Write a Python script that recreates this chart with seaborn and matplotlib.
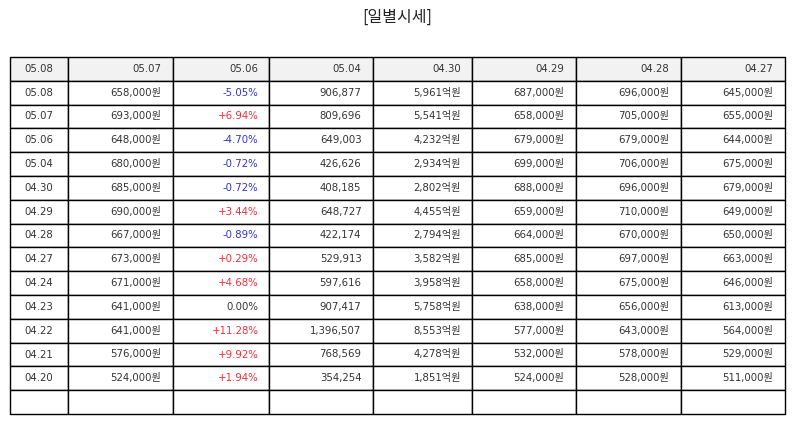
import matplotlib
matplotlib.use("Agg")
import matplotlib.pyplot as plt
import seaborn as sns

sns.set_theme(style="white")
plt.rcParams['font.family'] = ['DejaVu Sans', 'Noto Sans CJK KR']

# table contents
header = ['05.08', '05.07', '05.06', '05.04', '04.30', '04.29', '04.28', '04.27']
dates = ['05.08', '05.07', '05.06', '05.04', '04.30', '04.29', '04.28',
         '04.27', '04.24', '04.23', '04.22', '04.21', '04.20']
close = [658000, 693000, 648000, 680000, 685000, 690000, 667000,
         673000, 671000, 641000, 641000, 576000, 524000]
change = [-5.05, 6.94, -4.70, -0.72, -0.72, 3.44, -0.89,
          0.29, 4.68, 0.00, 11.28, 9.92, 1.94]
volume = [906877, 809696, 649003, 426626, 408185, 648727, 422174,
          529913, 597616, 907417, 1396507, 768569, 354254]
amount = [5961, 5541, 4232, 2934, 2802, 4455, 2794,
          3582, 3958, 5758, 8553, 4278, 1851]
open_p = [687000, 658000, 679000, 699000, 688000, 659000, 664000,
          685000, 658000, 638000, 577000, 532000, 524000]
high_p = [696000, 705000, 679000, 706000, 696000, 710000, 670000,
          697000, 675000, 656000, 643000, 578000, 528000]
low_p = [645000, 655000, 644000, 675000, 679000, 649000, 650000,
         663000, 646000, 613000, 564000, 529000, 511000]

col_px = [58, 105, 96, 104, 99, 104, 105, 104]


def won(v):
    return f'{v:,}원'


def pct(v):
    if v > 0:
        return f'+{v:.2f}%'
    if v < 0:
        return f'-{abs(v):.2f}%'
    return f'{v:.2f}%'


rows = [header]
for i in range(len(dates)):
    rows.append([dates[i], won(close[i]), pct(change[i]), f'{volume[i]:,}',
                 f'{amount[i]:,}억원', won(open_p[i]), won(high_p[i]), won(low_p[i])])
rows.append([''] * 8)

W, H = 794, 425
fig = plt.figure(figsize=(W / 100, H / 100), dpi=100)
ax = fig.add_axes([0, 0, 1, 1])
ax.axis('off')

tot = sum(col_px)
x0, x1 = 10, 785
y_top, y_bot = 57, 414
tbl = ax.table(cellText=rows,
               colWidths=[c / tot for c in col_px],
               bbox=[x0 / W, 1 - y_bot / H, (x1 - x0) / W, (y_bot - y_top) / H])
tbl.auto_set_font_size(False)

for (r, c), cell in tbl.get_celld().items():
    cell.set_edgecolor('black')
    cell.set_linewidth(1.0)
    cell.PAD = 0.11
    cell.set_text_props(fontsize=7.3, color='#333333')
    if c == 0:
        cell._loc = 'center'
        cell.get_text().set_ha('center')
    else:
        cell._loc = 'right'
        cell.get_text().set_ha('right')
    if r == 0:
        cell.set_facecolor('#f2f2f2')
    else:
        cell.set_facecolor('white')
    if r >= 1 and c == 2 and r - 1 < len(change):
        v = change[r - 1]
        if v > 0:
            cell.get_text().set_color('#e8303a')
        elif v < 0:
            cell.get_text().set_color('#3333cc')

fig.text(0.5, 1 - 17 / H, '[일별시세]', ha='center', va='center',
         fontsize=11.5, color='#222222', family=['Noto Sans CJK KR', 'DejaVu Sans'])

fig.savefig('out.png', dpi=100)
